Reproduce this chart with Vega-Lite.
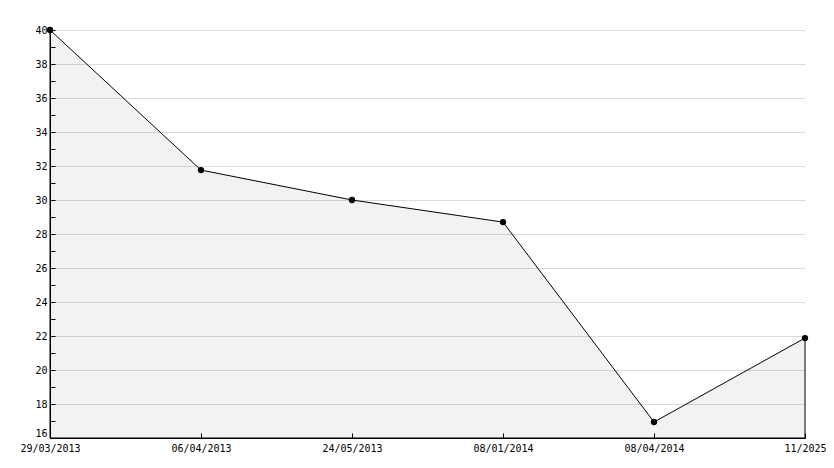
{
  "$schema": "https://vega.github.io/schema/vega-lite/v6.json",
  "width": 755,
  "height": 408,
  "autosize": {"type": "none"},
  "padding": {"left": 50, "top": 30, "right": 29, "bottom": 30},
  "background": "#ffffff",
  "config": {
    "view": {"stroke": null},
    "font": "DejaVu Sans Mono",
    "axis": {"labelFont": "DejaVu Sans Mono", "labelFontSize": 10, "labelColor": "#000000", "domainColor": "#000000", "tickColor": "#000000", "domainWidth": 1}
  },
  "data": {
    "values": [
      {"date": "29/03/2013", "value": 40},
      {"date": "06/04/2013", "value": 31.76},
      {"date": "24/05/2013", "value": 30},
      {"date": "08/01/2014", "value": 28.7},
      {"date": "08/04/2014", "value": 16.94},
      {"date": "11/2025", "value": 21.88}
    ]
  },
  "encoding": {
    "x": {
      "field": "date", "type": "ordinal", "sort": null,
      "scale": {"type": "point", "padding": 0},
      "axis": {"title": null, "labelAngle": 0, "tickSize": -5, "labelPadding": 10, "grid": false}
    },
    "y": {
      "field": "value", "type": "quantitative",
      "scale": {"domain": [16, 40], "nice": false, "zero": false},
      "axis": {
        "title": null,
        "values": [16,17,18,19,20,21,22,23,24,25,26,27,28,29,30,31,32,33,34,35,36,37,38,39,40],
        "labelExpr": "datum.value % 2 === 0 ? datum.label : ''",
        "labelBaseline": {"condition": {"test": "datum.value === 16", "value": "bottom"}, "value": "middle"},
        "tickSize": -5,
        "labelPadding": 8,
        "grid": true,
        "gridColor": "#dcdcdc",
        "gridOpacity": {"condition": {"test": "datum.value % 2 === 0", "value": 1}, "value": 0}
      }
    }
  },
  "layer": [
    {"mark": {"type": "area", "fill": "#000000", "fillOpacity": 0.05, "stroke": "#000000", "strokeWidth": 1}, "encoding": {"y2": {"datum": 16}}},
    {"mark": {"type": "point", "shape": "circle", "filled": true, "color": "#000000", "size": 40, "opacity": 1}}
  ]
}
